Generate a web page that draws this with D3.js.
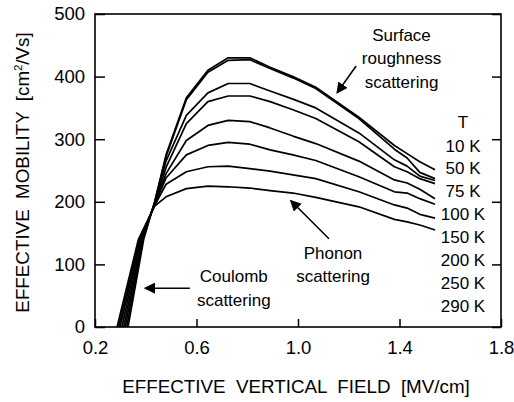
<!DOCTYPE html>
<html>
<head>
<meta charset="utf-8">
<script src="https://cdn.jsdelivr.net/npm/d3@7"></script>
<style>
  body { margin: 0; background: #fff; }
  svg text { font-family: "Liberation Sans", Arial, sans-serif; fill: #000; white-space: pre; }
</style>
</head>
<body>
<div id="container"></div>
<script>
/* CONSTANTS AND GLOBALS */
const width = 514;
const height = 402;
const margin = { top: 14, right: 13, bottom: 75, left: 95 };

/* DATA */
const temps = ["10 K", "50 K", "75 K", "100 K", "150 K", "200 K", "250 K", "290 K"];
// field where each curve leaves zero, and the knee of the steep rise (mobility = kneeMobility)
const onsetField = [0.330, 0.325, 0.319, 0.313, 0.306, 0.299, 0.293, 0.287];
const kneeField  = [0.392, 0.389, 0.386, 0.383, 0.380, 0.377, 0.374, 0.371];
const kneeMobility = 140;
// shared field grid above the crossing point [MV/cm]
const field = [0.435, 0.48, 0.56, 0.645, 0.725, 0.81, 0.89, 0.98, 1.07, 1.24, 1.38, 1.43, 1.48, 1.54];
const mu10  = [200, 275, 366, 410, 430, 430, 415, 400, 383, 335, 290, 277, 264, 251];
const mu50  = [199, 272, 363, 407, 426, 427, 413, 398, 381, 333, 284, 270, 247, 237];
const mu75  = [198, 265, 338, 374, 389, 389, 377, 364, 350, 310, 267, 257, 241, 234];
const mu100 = [197, 255, 325, 360, 369, 369, 360, 347, 333, 296, 256, 248, 237, 229];
const mu150 = [196, 245, 298, 322, 330, 328, 318, 305, 293, 265, 235, 230, 220, 205];
const mu200 = [195, 238, 275, 290, 295, 292, 283, 275, 266, 240, 216, 214, 205, 196];
const mu250 = [194, 228, 248, 256, 257, 253, 249, 243, 237, 216, 195, 190, 180, 174];
const mu290 = [193, 208, 221, 225, 224, 222, 218, 214, 207, 192, 172, 168, 163, 155];
const mobility = [mu10, mu50, mu75, mu100, mu150, mu200, mu250, mu290];

const xTicks = [0.2, 0.6, 1.0, 1.4, 1.8];
const yTicks = [0, 100, 200, 300, 400, 500];

const svg = d3.select("#container").append("svg")
  .attr("width", width)
  .attr("height", height);

/* SCALES */
const xScale = d3.scaleLinear()
  .domain([0.2, 1.8])
  .range([margin.left, width - margin.right]);

const yScale = d3.scaleLinear()
  .domain([0, 500])
  .range([height - margin.bottom, margin.top]);

/* CURVES */
const series = temps.map((t, i) => {
  const pts = [[onsetField[i], 0], [kneeField[i], kneeMobility]];
  field.forEach((f, j) => pts.push([f, mobility[i][j]]));
  return pts;
});

const line = d3.line()
  .x(d => xScale(d[0]))
  .y(d => yScale(d[1]));

svg.append("g")
  .selectAll("path.curve")
  .data(series)
  .join("path")
  .attr("class", "curve")
  .attr("d", line)
  .attr("fill", "none")
  .attr("stroke", "#000")
  .attr("stroke-width", 1.7)
  .attr("stroke-linejoin", "round");

/* AXES */
const xAxis = d3.axisBottom(xScale).tickValues(xTicks).tickFormat(d3.format(".1f"))
  .tickSizeInner(-8).tickSizeOuter(0).tickPadding(14);
const yAxis = d3.axisLeft(yScale).tickValues(yTicks).tickFormat(d3.format("d"))
  .tickSizeInner(-10).tickSizeOuter(0).tickPadding(10);
const yAxisRight = d3.axisRight(yScale).tickValues(yTicks).tickFormat("")
  .tickSizeInner(-9).tickSizeOuter(0);

const gx = svg.append("g")
  .attr("transform", `translate(0, ${height - margin.bottom})`)
  .call(xAxis);
const gy = svg.append("g")
  .attr("transform", `translate(${margin.left}, 0)`)
  .call(yAxis);
const gr = svg.append("g")
  .attr("transform", `translate(${width - margin.right}, 0)`)
  .call(yAxisRight);

[gx, gy, gr].forEach(g => {
  g.select(".domain").remove();
  g.selectAll(".tick line").attr("stroke", "#000").attr("stroke-width", 1.5);
  g.selectAll(".tick text").style("font-size", "18.5px").attr("fill", "#000");
});

svg.append("rect")
  .attr("x", margin.left)
  .attr("y", margin.top)
  .attr("width", width - margin.left - margin.right)
  .attr("height", height - margin.top - margin.bottom)
  .attr("fill", "none")
  .attr("stroke", "#000")
  .attr("stroke-width", 1.6);

/* AXIS TITLES */
svg.append("text")
  .attr("x", xScale(1.0) - 2)
  .attr("y", 393)
  .attr("text-anchor", "middle")
  .style("font-size", "18.8px")
  .text("EFFECTIVE  VERTICAL  FIELD  [MV/cm]");

const yt = svg.append("text")
  .attr("transform", `translate(29, ${yScale(250) + 2}) rotate(-90)`)
  .attr("text-anchor", "middle")
  .style("font-size", "18.8px");
yt.append("tspan").text("EFFECTIVE  MOBILITY  [cm");
yt.append("tspan").attr("dy", -7).style("font-size", "11px").text("2");
yt.append("tspan").attr("dy", 7).text("/Vs]");

/* LEGEND (temperature labels) */
svg.append("text")
  .attr("x", 463)
  .attr("y", 122)
  .attr("text-anchor", "middle")
  .attr("dominant-baseline", "central")
  .style("font-size", "17px")
  .text("T");

svg.selectAll("text.temp")
  .data(temps)
  .join("text")
  .attr("class", "temp")
  .attr("x", 463)
  .attr("y", (d, i) => 146 + i * 22.9)
  .attr("text-anchor", "middle")
  .attr("dominant-baseline", "central")
  .style("font-size", "17px")
  .text(d => d);

/* ANNOTATIONS */
const notes = [
  { lines: ["Surface", "roughness", "scattering"], at: [1.408, 466], tail: [1.229, 417], tip: [1.154, 374] },
  { lines: ["Phonon", "scattering"], at: [1.138, 118], tail: [1.122, 141], tip: [0.971, 202] },
  { lines: ["Coulomb", "scattering"], at: [0.747, 80], tail: [0.574, 62], tip: [0.397, 62] }
];

svg.append("defs").append("marker")
  .attr("id", "head")
  .attr("viewBox", "0 0 10 10")
  .attr("refX", 9).attr("refY", 5)
  .attr("markerWidth", 7).attr("markerHeight", 7)
  .attr("markerUnits", "strokeWidth")
  .attr("orient", "auto")
  .append("path")
  .attr("d", "M0,0 L10,5 L0,10 z")
  .attr("fill", "#000");

notes.forEach(n => {
  const t = svg.append("text")
    .attr("text-anchor", "middle")
    .style("font-size", "17px");
  n.lines.forEach((s, i) => {
    t.append("tspan")
      .attr("x", xScale(n.at[0]))
      .attr("y", yScale(n.at[1]) + i * 23.5)
      .attr("dominant-baseline", "central")
      .text(s);
  });
  svg.append("line")
    .attr("x1", xScale(n.tail[0])).attr("y1", yScale(n.tail[1]))
    .attr("x2", xScale(n.tip[0])).attr("y2", yScale(n.tip[1]))
    .attr("stroke", "#000")
    .attr("stroke-width", 1.6)
    .attr("marker-end", "url(#head)");
});
</script>
</body>
</html>
